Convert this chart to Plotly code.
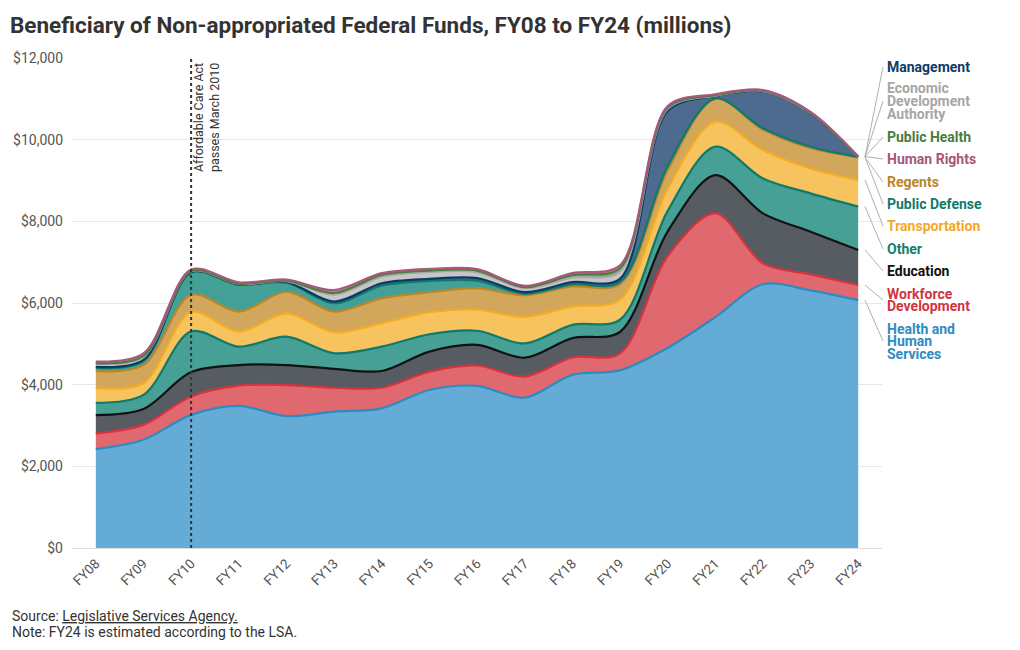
import plotly.graph_objects as go

years = ["FY08", "FY09", "FY10", "FY11", "FY12", "FY13", "FY14", "FY15", "FY16",
         "FY17", "FY18", "FY19", "FY20", "FY21", "FY22", "FY23", "FY24"]

# values in $ millions, bottom of stack first
health_human_services = [2420, 2650, 3260, 3480, 3230, 3340, 3420, 3870, 3970, 3680, 4240, 4350, 4900, 5650, 6460, 6310, 6070]
workforce_development = [385, 365, 450, 495, 760, 585, 505, 450, 500, 515, 425, 410, 2250, 2550, 510, 390, 370]
education = [450, 390, 600, 505, 490, 460, 410, 490, 505, 465, 475, 530, 600, 930, 1225, 1045, 860]
other = [300, 345, 995, 450, 695, 385, 595, 425, 345, 350, 325, 300, 500, 700, 855, 940, 1060]
transportation = [365, 285, 475, 370, 570, 515, 575, 540, 515, 650, 450, 490, 550, 610, 695, 610, 655]
regents = [410, 450, 425, 490, 530, 505, 610, 490, 530, 530, 490, 380, 450, 560, 505, 500, 550]
public_defense = [85, 100, 545, 655, 220, 205, 310, 275, 180, 35, 50, 50, 100, 10, 30, 30, 10]
management = [20, 20, 10, 10, 20, 40, 60, 50, 65, 40, 55, 80, 1350, 60, 900, 820, 5]
economic_development_authority = [70, 80, 15, 10, 20, 170, 160, 170, 145, 100, 115, 180, 50, 10, 10, 10, 3]
public_health = [20, 20, 10, 10, 10, 40, 40, 30, 40, 25, 60, 80, 30, 10, 10, 10, 2]
human_rights = [40, 60, 35, 30, 30, 70, 45, 45, 35, 30, 45, 70, 40, 20, 15, 15, 3]

series = [
    ("Health and Human Services", health_human_services),
    ("Workforce Development", workforce_development),
    ("Education", education),
    ("Other", other),
    ("Transportation", transportation),
    ("Regents", regents),
    ("Public Defense", public_defense),
    ("Management", management),
    ("Economic Development Authority", economic_development_authority),
    ("Public Health", public_health),
    ("Human Rights", human_rights),
]

# styles
line_colors = {
    "Health and Human Services": "#2b8cc4",
    "Workforce Development": "#d8323f",
    "Education": "#111111",
    "Other": "#0f7a6b",
    "Transportation": "#f2ad22",
    "Regents": "#b8862b",
    "Public Defense": "#0f7a6b",
    "Management": "#0c3a66",
    "Economic Development Authority": "#a8a8a8",
    "Public Health": "#4b7f3a",
    "Human Rights": "#a8577e",
}
fill_colors = {
    "Health and Human Services": "#64acd5",
    "Workforce Development": "#e0686f",
    "Education": "#575c63",
    "Other": "#46a096",
    "Transportation": "#f6c35e",
    "Regents": "#d2a75c",
    "Public Defense": "#43a096",
    "Management": "#4d6b8f",
    "Economic Development Authority": "#c6c6c6",
    "Public Health": "#7ea06f",
    "Human Rights": "#c58aa7",
}
label_colors = {
    "Health and Human Services": "#2e8bc3",
    "Workforce Development": "#d0353f",
    "Education": "#111111",
    "Other": "#12806f",
    "Transportation": "#f2a92a",
    "Regents": "#b8862b",
    "Public Defense": "#117a6c",
    "Management": "#0d3b66",
    "Economic Development Authority": "#a6a6a6",
    "Public Health": "#4a7c3a",
    "Human Rights": "#a8557b",
}
# label lines and their pixel centres (layout)
label_lines = {
    "Management": (["Management"], 67),
    "Economic Development Authority": (["Economic", "Development", "Authority"], 101),
    "Public Health": (["Public Health"], 137),
    "Human Rights": (["Human Rights"], 159),
    "Regents": (["Regents"], 182),
    "Public Defense": (["Public Defense"], 204),
    "Transportation": (["Transportation"], 226),
    "Other": (["Other"], 249),
    "Education": (["Education"], 271),
    "Workforce Development": (["Workforce", "Development"], 300),
    "Health and Human Services": (["Health and", "Human", "Services"], 341),
}

PLOT_L, PLOT_R, PLOT_T, PLOT_B = 72, 882, 58, 548
YMAX = 12000
XMIN, XMAX = -0.5, 16.5


def py_to_paper(py):
    return (PLOT_B - py) / (PLOT_B - PLOT_T)


def px_to_paper(px):
    return (px - PLOT_L) / (PLOT_R - PLOT_L)


def val_to_paper(v):
    return v / YMAX


fig = go.Figure()
for name, vals in series:
    fig.add_trace(go.Scatter(
        x=years, y=vals, name=name, stackgroup="one", mode="lines",
        line=dict(color=line_colors[name], width=2.2, shape="spline", smoothing=0.9),
        fillcolor=fill_colors[name], showlegend=False,
        hovertemplate="%{x}: $%{y:,}M<extra>" + name + "</extra>",
    ))

annotations = []
shapes = []

# right-hand labels with leader lines
last = len(years) - 1
cum = 0
for name, vals in series:
    cum += vals[last]
    lines, cy = label_lines[name]
    n = len(lines)
    spacing = 12.5
    for k, t in enumerate(lines):
        ly = cy + (k - (n - 1) / 2) * spacing
        annotations.append(dict(
            text="<b>" + t + "</b>", x=px_to_paper(885), y=py_to_paper(ly),
            xref="paper", yref="paper", xanchor="left", yanchor="middle",
            showarrow=False, font=dict(family="Roboto", size=14, color=label_colors[name]),
        ))
    shapes.append(dict(
        type="line", xref="paper", yref="paper",
        x0=px_to_paper(865), y0=val_to_paper(cum),
        x1=px_to_paper(883), y1=py_to_paper(cy),
        line=dict(color="#b0b0b0", width=1),
    ))

# Affordable Care Act marker
shapes.append(dict(
    type="line", xref="x", yref="paper", x0=2, x1=2, y0=0, y1=1,
    line=dict(color="#333333", width=2, dash="dot"), layer="above",
))
annotations.append(dict(
    text="Affordable Care Act<br>passes March 2010", x=2, y=1, xref="x", yref="paper",
    xanchor="left", yanchor="top", xshift=-2, yshift=-3, textangle=-90, align="left",
    showarrow=False, font=dict(family="Roboto", size=12.5, color="#333333"),
))

# source and note
annotations.append(dict(
    text="Source: <span style='text-decoration:underline'>Legislative Services Agency.</span>",
    x=px_to_paper(10), y=py_to_paper(616), xref="paper", yref="paper",
    xanchor="left", yanchor="middle", showarrow=False,
    font=dict(family="Roboto", size=14, color="#333333"),
))
annotations.append(dict(
    text="Note: FY24 is estimated according to the LSA.",
    x=px_to_paper(10), y=py_to_paper(632), xref="paper", yref="paper",
    xanchor="left", yanchor="middle", showarrow=False,
    font=dict(family="Roboto", size=14, color="#333333"),
))

fig.update_layout(
    width=1020, height=650,
    margin=dict(l=PLOT_L, r=1020 - PLOT_R, t=PLOT_T, b=650 - PLOT_B),
    paper_bgcolor="white", plot_bgcolor="white",
    title=dict(
        text="<b>Beneficiary of Non-appropriated Federal Funds, FY08 to FY24 (millions)</b>",
        x=10 / 1020, xref="container", xanchor="left",
        y=1 - 25 / 650, yref="container", yanchor="middle",
        font=dict(family="Roboto", size=22.5, color="#333333"),
    ),
    yaxis=dict(
        range=[0, YMAX], dtick=2000, tickprefix="$", tickformat=",",
        showgrid=True, gridcolor="#e8e8e8", gridwidth=1, zeroline=True,
        zerolinecolor="#dddddd", zerolinewidth=1, showline=False, ticks="",
        ticklabelstandoff=8,
        tickfont=dict(family="Roboto", size=14, color="#555555"),
    ),
    annotations=annotations, shapes=shapes,
    font=dict(family="Roboto"),
    hovermode="x",
)
fig.update_xaxes(
    type="category", range=[XMIN, XMAX], showgrid=False,
    showline=False, zeroline=False, ticks="", automargin=False,
    tickfont=dict(family="Roboto", size=13.5, color="#555555"),
)
fig.update_xaxes(tickangle=-45, ticklabelstandoff=4)

fig.write_html("out.html")
